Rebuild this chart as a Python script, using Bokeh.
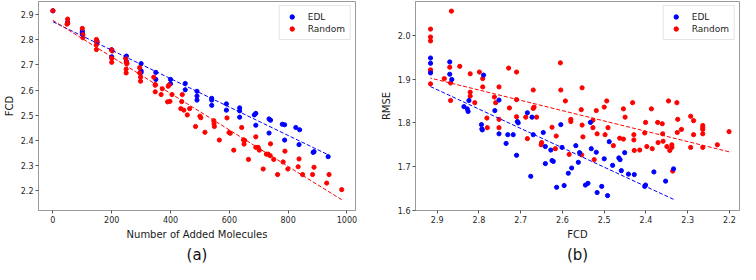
import numpy as np
from bokeh.plotting import figure
from bokeh.layouts import row
from bokeh.models import Range1d, FixedTicker, Title, PrintfTickFormatter, Legend, LegendItem
from bokeh.embed import file_html
from bokeh.resources import INLINE

# ---------------- data: panel (a) ----------------
edl_n = [0, 50, 50, 100, 100, 100, 150, 150, 200, 200, 250, 250, 250, 300, 300, 300,
         350, 350, 400, 400, 450, 450, 490, 490, 490, 540, 540, 540, 590, 590, 635, 635,
         635, 685, 690, 690, 735, 740, 735, 780, 788, 788, 826, 839, 837, 888, 885, 936]
edl_fcd_a = [2.915, 2.870, 2.865, 2.835, 2.828, 2.822, 2.795, 2.790, 2.760, 2.732, 2.735,
             2.714, 2.710, 2.705, 2.676, 2.670, 2.670, 2.642, 2.642, 2.625, 2.626, 2.601,
             2.595, 2.576, 2.560, 2.567, 2.560, 2.539, 2.545, 2.520, 2.529, 2.517, 2.492,
             2.501, 2.507, 2.460, 2.485, 2.480, 2.429, 2.464, 2.462, 2.401, 2.451, 2.442,
             2.383, 2.355, 2.352, 2.335]

rnd_n = [0, 50, 50, 48, 100, 102, 102, 148, 150, 148, 148, 199, 202, 200, 200, 247, 250,
         252, 249, 249, 295, 295, 298, 298, 343, 348, 348, 348, 395, 392, 372, 368, 390,
         398, 405, 440, 438, 435, 445, 457, 465, 485, 500, 503, 517, 547, 548, 549, 566,
         592, 599, 603, 615, 642, 648, 652, 650, 665, 690, 690, 698, 702, 715, 726, 732,
         739, 740, 751, 764, 783, 789, 799, 834, 837, 849, 883, 888, 931, 939, 982]
rnd_fcd_a = [2.915, 2.882, 2.866, 2.862, 2.845, 2.820, 2.808, 2.801, 2.789, 2.780, 2.761,
             2.760, 2.755, 2.726, 2.710, 2.726, 2.710, 2.705, 2.683, 2.668, 2.689, 2.668,
             2.651, 2.635, 2.651, 2.622, 2.619, 2.593, 2.620, 2.615, 2.605, 2.582, 2.553,
             2.555, 2.582, 2.582, 2.554, 2.526, 2.520, 2.501, 2.526, 2.455, 2.496, 2.490,
             2.432, 2.478, 2.466, 2.455, 2.401, 2.489, 2.431, 2.428, 2.361, 2.451, 2.402,
             2.400, 2.385, 2.324, 2.414, 2.372, 2.372, 2.361, 2.286, 2.345, 2.345, 2.339,
             2.386, 2.324, 2.264, 2.314, 2.357, 2.286, 2.295, 2.326, 2.264, 2.264, 2.293,
             2.230, 2.264, 2.204]

# ---------------- data: panel (b) ----------------
edl_fcd_b = [2.916, 2.916, 2.916, 2.870, 2.870, 2.865, 2.824, 2.836, 2.828, 2.826, 2.789,
             2.794, 2.793, 2.792, 2.762, 2.752, 2.752, 2.735, 2.731, 2.718, 2.708, 2.706,
             2.710, 2.684, 2.673, 2.670, 2.676, 2.646, 2.641, 2.641, 2.628, 2.625, 2.622,
             2.614, 2.604, 2.601, 2.596, 2.586, 2.578, 2.568, 2.562, 2.559, 2.545, 2.539,
             2.533, 2.531, 2.519, 2.517, 2.506, 2.500, 2.492, 2.488, 2.480, 2.465, 2.462,
             2.459, 2.451, 2.442, 2.428, 2.403, 2.401, 2.381, 2.353, 2.334]
edl_rmse = [1.948, 1.936, 1.914, 1.939, 1.911, 1.899, 1.851, 1.837, 1.832, 1.826, 1.909,
            1.796, 1.786, 1.784, 1.828, 1.852, 1.775, 1.753, 1.773, 1.773, 1.803, 1.800,
            1.726, 1.823, 1.813, 1.773, 1.678, 1.778, 1.746, 1.707, 1.738, 1.714, 1.712,
            1.653, 1.796, 1.744, 1.657, 1.685, 1.697, 1.748, 1.710, 1.732, 1.658, 1.662,
            1.801, 1.741, 1.733, 1.641, 1.655, 1.718, 1.634, 1.757, 1.703, 1.720, 1.716,
            1.691, 1.732, 1.683, 1.682, 1.655, 1.658, 1.688, 1.667, 1.695]

rnd_fcd_b = [2.916, 2.916, 2.916, 2.916, 2.916, 2.916, 2.866, 2.870, 2.868, 2.868, 2.883,
             2.846, 2.821, 2.821, 2.821, 2.810, 2.799, 2.791, 2.791, 2.781, 2.780, 2.763,
             2.760, 2.752, 2.752, 2.752, 2.729, 2.727, 2.710, 2.710, 2.710, 2.688, 2.684,
             2.670, 2.670, 2.668, 2.662, 2.651, 2.650, 2.625, 2.617, 2.615, 2.605, 2.604,
             2.593, 2.584, 2.580, 2.580, 2.555, 2.554, 2.553, 2.553, 2.551, 2.527, 2.527,
             2.524, 2.519, 2.517, 2.500, 2.498, 2.494, 2.491, 2.478, 2.463, 2.454, 2.454,
             2.450, 2.432, 2.429, 2.429, 2.428, 2.415, 2.403, 2.401, 2.398, 2.387, 2.385,
             2.372, 2.371, 2.361, 2.360, 2.359, 2.350, 2.346, 2.343, 2.338, 2.338, 2.336,
             2.326, 2.325, 2.324, 2.315, 2.293, 2.293, 2.286, 2.286, 2.264, 2.264, 2.264,
             2.264, 2.264, 2.229, 2.201]
rnd_rmse = [2.014, 1.996, 1.987, 1.921, 1.918, 1.889, 2.055, 1.927, 1.891, 1.851, 1.901,
            1.929, 1.912, 1.870, 1.861, 1.846, 1.916, 1.901, 1.882, 1.811, 1.789, 1.859,
            1.846, 1.882, 1.808, 1.789, 1.925, 1.834, 1.916, 1.853, 1.814, 1.813, 1.764,
            1.875, 1.833, 1.836, 1.813, 1.750, 1.755, 1.790, 1.741, 1.770, 1.937, 1.875,
            1.850, 1.728, 1.808, 1.803, 1.830, 1.727, 1.880, 1.795, 1.768, 1.806, 1.789,
            1.716, 1.828, 1.775, 1.836, 1.773, 1.850, 1.789, 1.748, 1.765, 1.832, 1.763,
            1.813, 1.846, 1.773, 1.761, 1.737, 1.738, 1.777, 1.801, 1.746, 1.832, 1.741,
            1.801, 1.755, 1.798, 1.775, 1.758, 1.746, 1.850, 1.737, 1.750, 1.744, 1.690,
            1.846, 1.778, 1.808, 1.785, 1.815, 1.744, 1.805, 1.773, 1.794, 1.789, 1.785,
            1.775, 1.744, 1.750, 1.780]

n_ticks = [0, 200, 400, 600, 800, 1000]
fcd_ticks = [2.2, 2.3, 2.4, 2.5, 2.6, 2.7, 2.8, 2.9]
rmse_ticks = [1.6, 1.7, 1.8, 1.9, 2.0]
series_names = ["EDL", "Random"]
series_colors = ["#0000ff", "#ff0000"]

FONT = "DejaVu Sans"
AX = "#9a9a9a"
MS = 4.2


def style(p):
    p.grid.visible = False
    p.outline_line_color = AX
    p.outline_line_width = 1
    for ax in p.axis:
        ax.axis_line_color = AX
        ax.major_tick_line_color = "#555555"
        ax.major_tick_out = 3
        ax.major_tick_in = 0
        ax.minor_tick_out = 0
        ax.minor_tick_in = 0
        ax.major_label_text_font = FONT
        ax.major_label_text_font_size = "8px"
        ax.major_label_text_color = "#262626"
        ax.major_label_standoff = 2
        ax.axis_label_text_font = FONT
        ax.axis_label_text_font_size = "10px"
        ax.axis_label_text_font_style = "normal"
        ax.axis_label_text_color = "#1a1a1a"
        ax.axis_label_standoff = 3


def add_legend(p, r_edl, r_rnd):
    lg = Legend(items=[LegendItem(label=series_names[0], renderers=[r_edl]),
                       LegendItem(label=series_names[1], renderers=[r_rnd])])
    lg.location = "top_right"
    lg.label_text_font = FONT
    lg.label_text_font_size = "9px"
    lg.label_text_color = "#262626"
    lg.border_line_color = "#cccccc"
    lg.background_fill_alpha = 0.8
    lg.margin = 4
    lg.padding = 5
    lg.spacing = 1
    lg.glyph_width = 14
    lg.glyph_height = 11
    lg.label_height = 11
    lg.label_standoff = 9
    p.add_layout(lg, "center")


def fit_line(p, xs, ys, color):
    xs = np.asarray(xs, float)
    ys = np.asarray(ys, float)
    k, b = np.polyfit(xs, ys, 1)
    lx = np.array([xs.min(), xs.max()])
    p.line(lx, k * lx + b, line_color=color, line_width=1, line_dash="4 2")


def caption(p, text):
    p.add_layout(Title(text=text, align="center", text_font=FONT, text_font_size="15px",
                       text_font_style="normal", text_color="#111111", standoff=2), "below")


# ---------------- panel (a) ----------------
pa = figure(width=377, height=264, output_backend="svg", toolbar_location=None,
            x_range=Range1d(-49, 1029), y_range=Range1d(2.121, 2.952),
            min_border_left=34, min_border_right=22, min_border_top=1, min_border_bottom=49,
            x_axis_label="Number of Added Molecules", y_axis_label="FCD")
ra_e = pa.scatter(edl_n, edl_fcd_a, size=MS, color=series_colors[0])
ra_r = pa.scatter(rnd_n, rnd_fcd_a, size=MS, color=series_colors[1])
fit_line(pa, edl_n, edl_fcd_a, series_colors[0])
fit_line(pa, rnd_n, rnd_fcd_a, series_colors[1])
pa.xaxis.ticker = FixedTicker(ticks=n_ticks)
pa.yaxis.ticker = FixedTicker(ticks=fcd_ticks)
pa.yaxis.formatter = PrintfTickFormatter(format="%.1f")
style(pa)
add_legend(pa, ra_e, ra_r)
caption(pa, "(a)")

# ---------------- panel (b) ----------------
pb = figure(width=363, height=264, output_backend="svg", toolbar_location=None,
            x_range=Range1d(2.952, 2.176), y_range=Range1d(1.6, 2.077),
            min_border_left=34, min_border_right=1, min_border_top=1, min_border_bottom=49,
            x_axis_label="FCD", y_axis_label="RMSE")
rb_r = pb.scatter(rnd_fcd_b, rnd_rmse, size=MS, color=series_colors[1])
rb_e = pb.scatter(edl_fcd_b, edl_rmse, size=MS, color=series_colors[0])
fit_line(pb, edl_fcd_b, edl_rmse, series_colors[0])
fit_line(pb, rnd_fcd_b, rnd_rmse, series_colors[1])
pb.xaxis.ticker = FixedTicker(ticks=fcd_ticks)
pb.xaxis.formatter = PrintfTickFormatter(format="%.1f")
pb.yaxis.ticker = FixedTicker(ticks=rmse_ticks)
pb.yaxis.formatter = PrintfTickFormatter(format="%.1f")
style(pb)
add_legend(pb, rb_e, rb_r)
caption(pb, "(b)")

layout = row(pa, pb)
open("out.html", "w").write(file_html(layout, INLINE))
